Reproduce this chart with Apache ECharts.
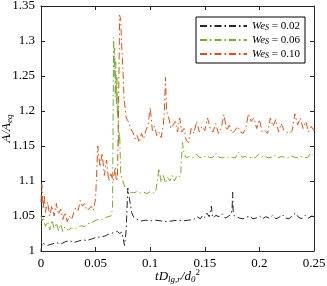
<!DOCTYPE html>
<html><head><meta charset="utf-8">
<script src="https://cdn.jsdelivr.net/npm/echarts@6/dist/echarts.min.js"></script>
<style>html,body{margin:0;padding:0;background:#fff}#c{width:327px;height:286px}</style>
</head><body><div id="c"></div>
<script>
const seriesNames = ['0.02', '0.06', '0.10'];
const xTicks = [0, 0.05, 0.1, 0.15, 0.2, 0.25];
const yTicks = [1, 1.05, 1.1, 1.15, 1.2, 1.25, 1.3, 1.35];

const tBlack = [0,0.001,0.003,0.006,0.01,0.014,0.018,0.022,0.026,0.03,0.034,0.038,0.042,0.046,0.05,0.054,0.058,0.062,0.066,0.07,0.072,0.074,0.0755,0.0765,0.078,0.0795,0.081,0.083,0.085,0.088,0.092,0.096,0.1,0.105,0.11,0.115,0.12,0.125,0.13,0.135,0.14,0.143,0.146,0.148,0.15,0.152,0.154,0.156,0.157,0.158,0.16,0.163,0.166,0.169,0.172,0.174,0.175,0.1755,0.176,0.177,0.179,0.182,0.185,0.188,0.191,0.194,0.197,0.2,0.203,0.206,0.209,0.212,0.215,0.218,0.221,0.224,0.227,0.23,0.233,0.236,0.239,0.242,0.245,0.248,0.25];
const yBlack = [1.0,1.012,1.01,1.008,1.01,1.012,1.01,1.013,1.015,1.012,1.014,1.016,1.015,1.017,1.019,1.02,1.021,1.024,1.026,1.028,1.025,1.027,1.026,1.008,1.03,1.09,1.075,1.055,1.048,1.045,1.043,1.044,1.043,1.044,1.043,1.042,1.043,1.044,1.043,1.044,1.045,1.049,1.046,1.051,1.048,1.054,1.049,1.064,1.05,1.047,1.051,1.049,1.053,1.047,1.05,1.052,1.06,1.084,1.055,1.05,1.049,1.047,1.046,1.048,1.05,1.046,1.047,1.05,1.046,1.049,1.047,1.051,1.046,1.048,1.052,1.047,1.046,1.05,1.054,1.048,1.046,1.051,1.047,1.05,1.049];

const tGreen = [0,0.001,0.002,0.004,0.006,0.008,0.01,0.012,0.014,0.016,0.018,0.02,0.022,0.025,0.028,0.031,0.034,0.037,0.04,0.043,0.046,0.049,0.052,0.055,0.058,0.061,0.064,0.0655,0.0665,0.067,0.0675,0.068,0.0685,0.069,0.0695,0.07,0.0705,0.071,0.072,0.073,0.075,0.077,0.079,0.082,0.085,0.088,0.091,0.094,0.097,0.1,0.103,0.105,0.1065,0.108,0.11,0.112,0.114,0.116,0.118,0.12,0.122,0.124,0.126,0.128,0.1295,0.131,0.133,0.136,0.139,0.142,0.145,0.148,0.151,0.154,0.157,0.16,0.163,0.166,0.169,0.172,0.175,0.178,0.181,0.184,0.187,0.19,0.193,0.196,0.199,0.202,0.205,0.208,0.211,0.214,0.217,0.22,0.223,0.226,0.229,0.232,0.235,0.238,0.241,0.244,0.247,0.25];
const yGreen = [1.05,1.043,1.048,1.035,1.042,1.03,1.044,1.032,1.04,1.029,1.038,1.028,1.035,1.03,1.033,1.031,1.034,1.036,1.035,1.039,1.04,1.043,1.045,1.044,1.047,1.049,1.05,1.06,1.305,1.25,1.29,1.22,1.27,1.21,1.25,1.19,1.22,1.15,1.17,1.11,1.1,1.09,1.087,1.084,1.083,1.085,1.083,1.084,1.082,1.085,1.083,1.084,1.1,1.118,1.098,1.108,1.097,1.105,1.1,1.108,1.1,1.106,1.104,1.112,1.155,1.14,1.133,1.135,1.133,1.138,1.134,1.133,1.136,1.134,1.133,1.14,1.134,1.133,1.135,1.133,1.134,1.133,1.141,1.134,1.135,1.133,1.134,1.133,1.138,1.134,1.136,1.133,1.134,1.137,1.133,1.135,1.134,1.133,1.136,1.134,1.133,1.135,1.134,1.133,1.14,1.135];

const tOrange = [0,0.0008,0.002,0.003,0.004,0.006,0.008,0.01,0.012,0.014,0.016,0.018,0.02,0.022,0.024,0.026,0.028,0.03,0.032,0.034,0.036,0.038,0.04,0.042,0.044,0.046,0.048,0.05,0.052,0.054,0.056,0.058,0.06,0.062,0.064,0.066,0.068,0.069,0.07,0.071,0.072,0.073,0.074,0.075,0.076,0.078,0.08,0.082,0.084,0.086,0.088,0.09,0.092,0.094,0.096,0.098,0.1,0.102,0.104,0.106,0.108,0.11,0.112,0.113,0.114,0.115,0.117,0.119,0.121,0.123,0.125,0.127,0.129,0.131,0.133,0.135,0.1375,0.14,0.1425,0.145,0.1475,0.15,0.1525,0.155,0.1575,0.16,0.1625,0.165,0.1675,0.17,0.1725,0.175,0.1775,0.18,0.1825,0.185,0.1875,0.19,0.1925,0.195,0.1975,0.2,0.2025,0.205,0.2075,0.21,0.2125,0.215,0.2175,0.22,0.2225,0.225,0.2275,0.23,0.2325,0.235,0.2375,0.24,0.2425,0.245,0.2475,0.25];
const yOrange = [1.07,1.095,1.06,1.08,1.055,1.07,1.05,1.065,1.05,1.068,1.052,1.06,1.045,1.055,1.042,1.05,1.045,1.055,1.062,1.058,1.072,1.064,1.068,1.058,1.06,1.064,1.058,1.075,1.15,1.12,1.14,1.108,1.13,1.1,1.11,1.1,1.12,1.1,1.105,1.2,1.337,1.33,1.29,1.26,1.22,1.19,1.185,1.175,1.17,1.16,1.165,1.155,1.168,1.16,1.172,1.18,1.205,1.172,1.178,1.165,1.17,1.162,1.18,1.2,1.248,1.2,1.19,1.175,1.18,1.185,1.17,1.19,1.17,1.175,1.158,1.155,1.175,1.168,1.185,1.17,1.178,1.172,1.19,1.175,1.17,1.182,1.168,1.175,1.195,1.172,1.18,1.168,1.172,1.178,1.17,1.168,1.175,1.196,1.185,1.19,1.175,1.188,1.17,1.172,1.168,1.19,1.178,1.188,1.17,1.182,1.172,1.17,1.168,1.172,1.196,1.18,1.19,1.175,1.185,1.17,1.178,1.172];

const colors = ['#262626', '#77AC30', '#D95319'];
const dash = [7, 3, 1.5, 3];
const serif = 'Liberation Serif';
const axisCol = '#262626';

function pairs(t, y) { return t.map((v, i) => [v, y[i]]); }
const seriesData = [pairs(tBlack, yBlack), pairs(tGreen, yGreen), pairs(tOrange, yOrange)];

const chart = echarts.init(document.getElementById('c'), null, {renderer: 'canvas'});
const baseX = {type: 'value', min: 0, max: 0.25, interval: 0.05, splitLine: {show: false},
  axisLine: {show: true, onZero: false, lineStyle: {color: axisCol, width: 1}},
  axisTick: {show: true, inside: true, length: 4, lineStyle: {color: axisCol}}};
const baseY = {type: 'value', min: 1, max: 1.35, interval: 0.05, splitLine: {show: false},
  axisLine: {show: true, onZero: false, lineStyle: {color: axisCol, width: 1}},
  axisTick: {show: true, inside: true, length: 4, lineStyle: {color: axisCol}}};

chart.setOption({
  animation: false,
  color: colors,
  grid: {left: 41, right: 13, top: 6, bottom: 35, containLabel: false, outerBoundsMode: 'none'},
  xAxis: [
    Object.assign({}, baseX, {position: 'bottom',
      axisLabel: {color: '#000', fontFamily: serif, fontSize: 13, margin: 6,
        formatter: v => xTicks.includes(+v.toFixed(2)) ? String(+v.toFixed(2)) : ''},
      name: '{i|tD}{s|lg,r}{i|/d}{s|0}{p|2}', nameLocation: 'middle', nameGap: 17, nameMoveOverlap: false,
      nameTextStyle: {fontFamily: serif, rich: {
        i: {fontFamily: serif, fontStyle: 'italic', fontSize: 13, color: '#000'},
        s: {fontFamily: serif, fontStyle: 'italic', fontSize: 9, color: '#000', padding: [6, 0, 0, 0]},
        p: {fontFamily: serif, fontSize: 9, color: '#000', padding: [0, 0, 8, 0]}
      }}}),
    Object.assign({}, baseX, {position: 'top', axisLabel: {show: false}})
  ],
  yAxis: [
    Object.assign({}, baseY, {position: 'left',
      axisLabel: {color: '#000', fontFamily: serif, fontSize: 13, margin: 6,
        formatter: v => { const r = +v.toFixed(2); return yTicks.includes(r) ? String(r) : ''; }},
      name: '{i|A/A}{s|eq}', nameLocation: 'middle', nameGap: 27, nameMoveOverlap: false,
      nameTextStyle: {fontFamily: serif, rich: {
        i: {fontFamily: serif, fontStyle: 'italic', fontSize: 13, color: '#000'},
        s: {fontFamily: serif, fontStyle: 'italic', fontSize: 9, color: '#000', padding: [6, 0, 0, 0]}
      }}}),
    Object.assign({}, baseY, {position: 'right', axisLabel: {show: false}})
  ],
  legend: {
    show: true, right: 22, top: 17, orient: 'vertical', itemWidth: 47, itemHeight: 10, itemGap: 2,
    backgroundColor: '#fff', borderColor: '#000', borderWidth: 1, borderRadius: 0,
    padding: [3, 5, 3, 3],
    data: seriesNames,
    itemStyle: {opacity: 0},
    formatter: n => '{i|We}{s|S}{n| = ' + n + '}',
    textStyle: {fontFamily: serif, lineHeight: 10, rich: {
      i: {fontFamily: serif, fontStyle: 'italic', fontSize: 11, color: '#000', lineHeight: 10},
      s: {fontFamily: serif, fontStyle: 'italic', fontSize: 8, color: '#000', lineHeight: 10, padding: [4, 0, 0, 0]},
      n: {fontFamily: serif, fontSize: 11, color: '#000', lineHeight: 10}
    }}
  },
  series: seriesNames.map((n, k) => ({
    name: n, type: 'line', data: seriesData[k], symbol: 'none', showSymbol: false,
    lineStyle: {color: colors[k], width: 1, type: dash}, z: 3 + k
  }))
});
</script></body></html>
